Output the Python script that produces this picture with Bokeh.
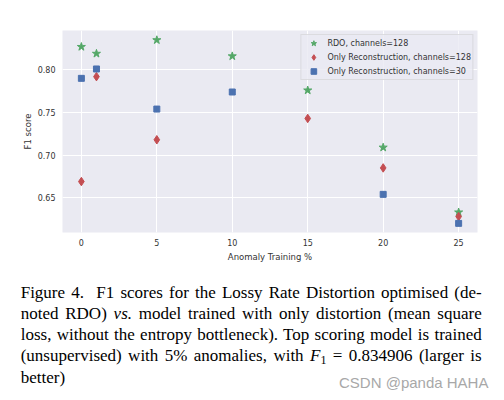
from bokeh.plotting import figure
from bokeh.layouts import column
from bokeh.models import FixedTicker, PrintfTickFormatter, Legend, LegendItem, Range1d, Div
from bokeh.embed import file_html
from bokeh.resources import INLINE

# ---- data ----
rdo_x = [0, 1, 5, 10, 15, 20, 25]
rdo_y = [0.827, 0.819, 0.834906, 0.816, 0.776, 0.709, 0.633]
rec128_x = [0, 1, 5, 15, 20, 25]
rec128_y = [0.669, 0.792, 0.718, 0.743, 0.685, 0.628]
rec30_x = [0, 1, 5, 10, 20, 25]
rec30_y = [0.790, 0.801, 0.754, 0.774, 0.654, 0.620]
x_ticks = [0, 5, 10, 15, 20, 25]
y_ticks = [0.65, 0.70, 0.75, 0.80]
legend_labels = ["RDO, channels=128", "Only Reconstruction, channels=128", "Only Reconstruction, channels=30"]
caption_lines = [
    "Figure 4.&nbsp; F1 scores for the Lossy Rate Distortion optimised (de-",
    "noted RDO) <i>vs.</i> model trained with only distortion (mean square",
    "loss, without the entropy bottleneck). Top scoring model is trained",
    "(unsupervised) with 5% anomalies, with <i>F</i><sub>1</sub> = 0.834906 (larger is",
    "better)",
]
watermark = "CSDN @panda HAHA"

GREEN, RED, BLUE = "#55A868", "#C44E52", "#4C72B0"

W = 488
H1 = 266          # chart part
H2 = 392 - H1     # caption part
FL, FT, FR, FB = 62, 30, 477, 232

p = figure(width=W, height=H1, output_backend="svg", toolbar_location=None,
           x_range=Range1d(-1.25, 26.25), y_range=Range1d(0.6093, 0.8461),
           min_border_left=FL, min_border_top=FT, min_border_right=W - FR,
           min_border_bottom=H1 - FB)
p.background_fill_color = "#EAEAF2"
p.outline_line_color = None
p.border_fill_color = "white"

for ax in (p.xaxis[0], p.yaxis[0]):
    ax.axis_line_color = None
    ax.major_tick_line_color = None
    ax.minor_tick_line_color = None
    ax.major_tick_in = 0
    ax.major_tick_out = 0
    ax.minor_tick_in = 0
    ax.minor_tick_out = 0
    ax.major_label_text_font = "DejaVu Sans"
    ax.major_label_text_font_size = "8px"
    ax.major_label_text_color = "#333333"
    ax.axis_label_text_font = "DejaVu Sans"
    ax.axis_label_text_font_size = "8.5px"
    ax.axis_label_text_font_style = "normal"
    ax.axis_label_text_color = "#333333"

p.xaxis.ticker = FixedTicker(ticks=x_ticks)
p.yaxis.ticker = FixedTicker(ticks=y_ticks)
p.yaxis.formatter = PrintfTickFormatter(format="%.2f")
p.xaxis.major_label_standoff = 6
p.yaxis.major_label_standoff = 7
p.xaxis.axis_label = "Anomaly Training %"
p.yaxis.axis_label = "F1 score"
p.xaxis.axis_label_standoff = 3
p.yaxis.axis_label_standoff = 2

p.xgrid.grid_line_color = "white"
p.ygrid.grid_line_color = "white"

r1 = p.scatter(rdo_x, rdo_y, marker="star", size=8.5, fill_color=GREEN, line_color=GREEN)
r2 = p.scatter(rec128_x, rec128_y, marker="diamond", size=8.5, fill_color=RED, line_color=RED)
r3 = p.scatter(rec30_x, rec30_y, marker="square", size=6, fill_color=BLUE, line_color=BLUE)

legend = Legend(items=[LegendItem(label=legend_labels[0], renderers=[r1]),
                       LegendItem(label=legend_labels[1], renderers=[r2]),
                       LegendItem(label=legend_labels[2], renderers=[r3])],
                location="top_right")
legend.margin = 4
legend.padding = 1
legend.spacing = -2
legend.label_height = 14
legend.glyph_height = 14
legend.glyph_width = 22
legend.label_standoff = 3
legend.label_text_font = "DejaVu Sans"
legend.label_text_font_size = "8px"
legend.label_text_color = "#333333"
legend.background_fill_color = "#EAEAF2"
legend.background_fill_alpha = 0.8
legend.border_line_color = "#cccccc"
p.add_layout(legend, "center")

# ---- caption ----
line_style = ("white-space:nowrap; height:21.3px; line-height:21.3px; "
              "text-align:justify; text-align-last:justify;")
last_style = "white-space:nowrap; height:21.3px; line-height:21.3px; text-align:left;"
html = ('<div style="position:relative; width:%dpx; height:%dpx; '
        'font-family:\'Liberation Serif\', serif; font-size:17px; color:#000;">' % (W, H2))
html += '<div style="position:absolute; left:20.7px; top:15.6px; width:461px;">'
for i, ln in enumerate(caption_lines):
    st = line_style if i < len(caption_lines) - 1 else last_style
    ln = ln.replace("<sub>", '<sub style="font-size:12px; vertical-align:-3px; line-height:0;">')
    html += '<div style="%s">%s</div>' % (st, ln)
html += '</div>'
html += ('<span style="position:absolute; left:339px; top:108.6px; font-family:\'Liberation Sans\', sans-serif; '
         'font-size:15px; line-height:15px; color:#a8a8a8; white-space:nowrap;">%s</span>' % watermark)
html += '</div>'

cap = Div(text=html, width=W, height=H2, margin=0)

layout = column(p, cap, spacing=0)
open("out.html", "w").write(file_html(layout, INLINE))
